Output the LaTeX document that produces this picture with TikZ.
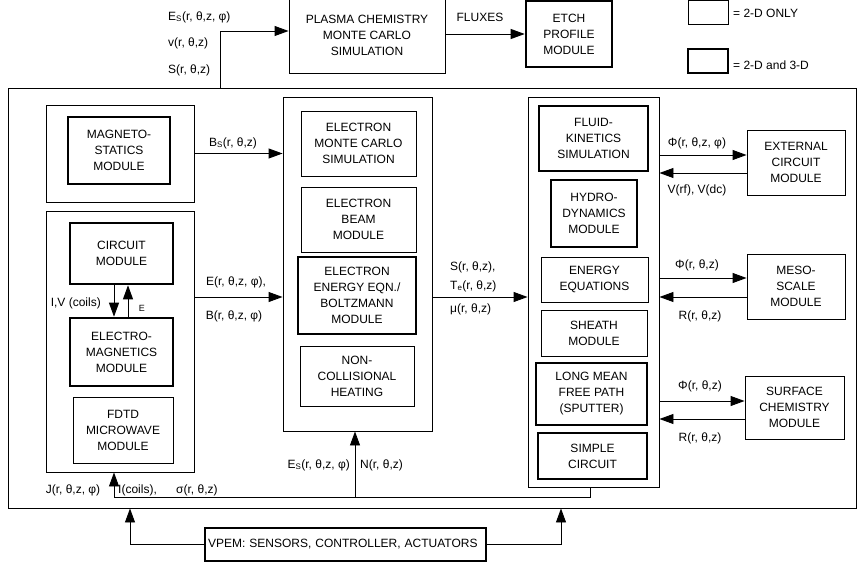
\documentclass[tikz,border=0pt]{standalone}
\usepackage{fontspec}
\setmainfont{Liberation Sans}
\usetikzlibrary{arrows.meta}

\begin{document}
\begin{tikzpicture}[x=1pt,y=-1pt,font=\fontsize{12}{16}\selectfont]
	\tikzstyle{Box} = [rectangle, draw=black, line width=0.9pt, align=center, inner sep=0pt]
	\tikzstyle{Thick} = [Box, line width=2.6pt]
	\tikzstyle{arrow} = [line width=0.9pt,-{Triangle[length=14pt,width=10pt]}]
	\tikzstyle{lbl} = [inner sep=0pt]

	\useasboundingbox (0,0) rectangle (860,567);

	% top row and legend
	\node (plasma) [Box, minimum width=156pt, minimum height=75pt] at (367,35.5) {PLASMA CHEMISTRY\\MONTE CARLO\\SIMULATION};
	\node (etch) [Thick, minimum width=86pt, minimum height=66pt] at (569,34) {ETCH\\PROFILE\\MODULE};
	\node (key1) [Box, minimum width=40pt, minimum height=24pt] at (708,12) {};
	\node (key2) [Thick, minimum width=40pt, minimum height=24pt] at (708,61) {};
	\node [lbl, anchor=west] at (733,13) {= 2-D ONLY};
	\node [lbl, anchor=west] at (733,65) {= 2-D and 3-D};

	% coupled model
	\node (hpem) [Box, minimum width=848pt, minimum height=420pt] at (432,298) {};

	% left column
	\node (magOuter) [Box, minimum width=148pt, minimum height=97pt] at (120,153.5) {};
	\node (mag) [Thick, minimum width=102pt, minimum height=67pt] at (119,150.5) {MAGNETO-\\STATICS\\MODULE};
	\node (emOuter) [Box, minimum width=148pt, minimum height=261pt] at (120,341.5) {};
	\node (circ) [Thick, minimum width=103pt, minimum height=61pt] at (121.5,253.5) {CIRCUIT\\MODULE};
	\node (em) [Thick, minimum width=103pt, minimum height=68pt] at (121.5,352) {ELECTRO-\\MAGNETICS\\MODULE};
	\node (fdtd) [Box, minimum width=100pt, minimum height=66pt] at (123,430) {FDTD\\MICROWAVE\\MODULE};

	% middle column
	\node (midOuter) [Box, minimum width=149pt, minimum height=334pt] at (357.5,264) {};
	\node (emc) [Box, minimum width=115pt, minimum height=65pt] at (358.5,143.5) {ELECTRON\\MONTE CARLO\\SIMULATION};
	\node (ebeam) [Box, minimum width=115pt, minimum height=65pt] at (358.5,219.5) {ELECTRON\\BEAM\\MODULE};
	\node (eeqn) [Thick, minimum width=118pt, minimum height=77pt] at (357,295.5) {ELECTRON\\ENERGY EQN./\\BOLTZMANN\\MODULE};
	\node (noncoll) [Box, minimum width=114pt, minimum height=60pt] at (357,376) {NON-\\COLLISIONAL\\HEATING};

	% right column
	\node (rightOuter) [Box, minimum width=131pt, minimum height=390pt] at (593.5,292) {};
	\node (fkin) [Thick, minimum width=109pt, minimum height=65pt] at (593.5,138.5) {FLUID-\\KINETICS\\SIMULATION};
	\node (hydro) [Thick, minimum width=86pt, minimum height=67pt] at (594,213.5) {HYDRO-\\DYNAMICS\\MODULE};
	\node (energy) [Box, minimum width=107pt, minimum height=45pt] at (594.5,279.5) {ENERGY\\EQUATIONS};
	\node (sheath) [Box, minimum width=106pt, minimum height=46pt] at (594,333) {SHEATH\\MODULE};
	\node (lmfp) [Thick, minimum width=111pt, minimum height=62pt] at (591.5,394) {LONG MEAN\\FREE PATH\\(SPUTTER)};
	\node (simple) [Thick, minimum width=109pt, minimum height=46pt] at (592.5,456) {SIMPLE\\CIRCUIT};

	% outside modules
	\node (ext) [Box, minimum width=98pt, minimum height=65pt] at (796,162.5) {EXTERNAL\\CIRCUIT\\MODULE};
	\node (meso) [Box, minimum width=98pt, minimum height=65pt] at (796,286.5) {MESO-\\SCALE\\MODULE};
	\node (surf) [Box, minimum width=99pt, minimum height=63pt] at (794.5,407.5) {SURFACE\\CHEMISTRY\\MODULE};
	\node (vpem) [Box, line width=1.8pt, text width=275pt, inner xsep=3pt, minimum height=33pt, align=left] at (345.5,544.5) {VPEM: SENSORS, CONTROLLER, ACTUATORS};

	% connectors
	\draw [arrow] (hpem.north -| 220,0) |- (plasma.west |- 0,31);
	\draw [arrow] (plasma.east |- etch.west) -- (etch.west);
	\draw [arrow] (magOuter.east) -- (magOuter.east -| midOuter.west);
	\draw [arrow] (emOuter.east |- 0,297) -- (midOuter.west |- 0,297);
	\draw [arrow] (circ.south -| 114,0) -- (em.north -| 114,0);
	\draw [arrow] (em.north -| 128,0) -- (circ.south -| 128,0);
	\draw [arrow] (midOuter.east |- 0,297) -- (rightOuter.west |- 0,297);
	\draw [arrow] (rightOuter.east |- 0,155) -- (ext.west |- 0,155);
	\draw [arrow] (ext.west |- 0,173) -- (rightOuter.east |- 0,173);
	\draw [arrow] (rightOuter.east |- 0,278) -- (meso.west |- 0,278);
	\draw [arrow] (meso.west |- 0,297) -- (rightOuter.east |- 0,297);
	\draw [arrow] (rightOuter.east |- 0,401) -- (surf.west |- 0,401);
	\draw [arrow] (surf.west |- 0,419) -- (rightOuter.east |- 0,419);

	% feedback along the bottom
	\coordinate (fb) at (355,497);
	\draw [arrow] (rightOuter.south -| 590,0) |- (114,497) -- (emOuter.south -| 114,0);
	\draw [arrow] (fb) -- (midOuter.south -| fb);
	\draw [arrow] (vpem.west) -| (hpem.south -| 130,0);
	\draw [arrow] (vpem.east) -| (hpem.south -| 561,0);

	% labels
	\node [lbl, anchor=west] at (168,17) {E\textsubscript{S}(r, θ,z, φ)};
	\node [lbl, anchor=west] at (168,43) {v(r, θ,z)};
	\node [lbl, anchor=west] at (168,70) {S(r, θ,z)};
	\node [lbl] at (480,17) {FLUXES};
	\node [lbl] at (233,143) {B\textsubscript{S}(r, θ,z)};
	\node [lbl] at (236,282) {E(r, θ,z, φ),};
	\node [lbl] at (234,316) {B(r, θ,z, φ)};
	\node [lbl, anchor=east] at (101,303) {I,V (coils)};
	\node [lbl, font=\fontsize{9}{11}\selectfont] at (142,308) {E};
	\node [lbl, anchor=west] at (450,267) {S(r, θ,z),};
	\node [lbl, anchor=west] at (450,286) {T\textsubscript{e}(r, θ,z)};
	\node [lbl, anchor=west] at (450,309) {μ(r, θ,z)};
	\node [lbl] at (697,143) {Φ(r, θ,z, φ)};
	\node [lbl] at (697,190) {V(rf), V(dc)};
	\node [lbl] at (697,265) {Φ(r, θ,z)};
	\node [lbl] at (700,316) {R(r, θ,z)};
	\node [lbl] at (700,386) {Φ(r, θ,z)};
	\node [lbl] at (700,438) {R(r, θ,z)};
	\node [lbl, anchor=east] at (350,465) {E\textsubscript{S}(r, θ,z, φ)};
	\node [lbl, anchor=west] at (360,465) {N(r,  θ,z)};
	\node [lbl] at (73,490) {J(r, θ,z, φ)};
	\node [lbl, anchor=west] at (118,490) {I(coils),};
	\node [lbl, anchor=west] at (176,490) {σ(r, θ,z)};
\end{tikzpicture}
\end{document}
